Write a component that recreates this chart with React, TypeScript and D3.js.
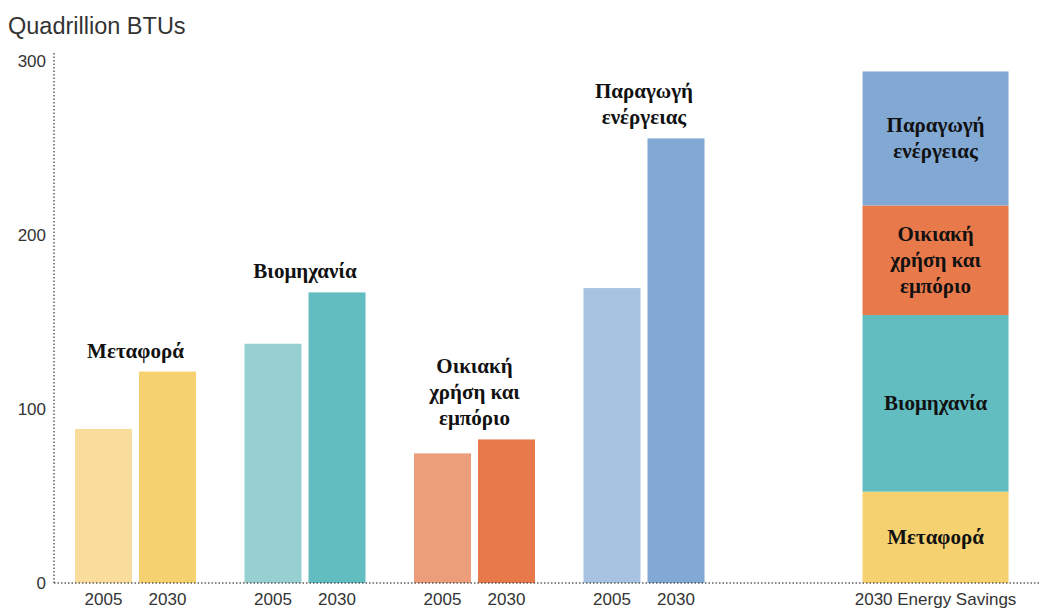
import React, { useEffect, useRef } from "react";
import * as d3 from "d3";

const sectors = ["Μεταφορά", "Βιομηχανία", "Οικιακή χρήση και εμπόριο", "Παραγωγή ενέργειας"];
const sectorLines = [["Μεταφορά"], ["Βιομηχανία"], ["Οικιακή", "χρήση και", "εμπόριο"], ["Παραγωγή", "ενέργειας"]];
const years = ["2005", "2030"];
const values2005 = [88.5, 137.5, 74.5, 169.5];
const values2030 = [121.5, 167, 82.5, 255.5];
const savings = [52.5, 101.5, 63, 77];
const savingsLabel = "2030 Energy Savings";
const yTicks = [0, 100, 200, 300];
const yTitle = "Quadrillion BTUs";

const colors2005 = ["#f9dd9c", "#96d0d1", "#eb9e79", "#a8c2e1"];
const colors2030 = ["#f5d170", "#62bdc1", "#e8794b", "#82a8d4"];

export default function App() {
  const ref = useRef<SVGSVGElement | null>(null);

  useEffect(() => {
    const svg = d3.select(ref.current);
    svg.selectAll("*").remove();
    const W = 1041, H = 610;
    const y = d3.scaleLinear().domain([0, 300]).range([583, 61]);
    const x = d3.scaleLinear().domain([0, 3]).range([135.5, 644]);
    const savingsPos = 4.72;
    const barW = 57, gap = 7, stackW = 146;
    const sans = "'Liberation Sans', Arial, sans-serif";
    const serif = "'Liberation Serif', 'Times New Roman', serif";
    const labelSize = 21;
    const xLabelY = 605;

    svg.append("rect").attr("width", W).attr("height", H).attr("fill", "#fff");

    // title
    svg.append("text").attr("x", 8).attr("y", 34).attr("font-family", sans)
      .attr("font-size", 23.5).attr("fill", "#333").text(yTitle);

    // y tick labels
    svg.selectAll(".yt").data(yTicks).enter().append("text")
      .attr("x", 46).attr("y", (d) => y(d) + 6).attr("text-anchor", "end")
      .attr("font-family", sans).attr("font-size", 17).attr("fill", "#333").text((d) => d);

    // bars
    const g = svg.append("g");
    sectors.forEach((s, i) => {
      const cx = x(i);
      const vals = [values2005[i], values2030[i]];
      const cols = [colors2005[i], colors2030[i]];
      vals.forEach((v, j) => {
        const bx = j === 0 ? cx - gap / 2 - barW : cx + gap / 2;
        g.append("rect").attr("x", bx).attr("y", y(v)).attr("width", barW)
          .attr("height", y(0) - y(v)).attr("fill", cols[j]);
        g.append("text").attr("x", bx + barW / 2).attr("y", xLabelY).attr("text-anchor", "middle")
          .attr("font-family", sans).attr("font-size", 17).attr("fill", "#333").text(years[j]);
      });
      const top = y(Math.max(...vals));
      const lines = sectorLines[i];
      lines.forEach((ln, k) => {
        g.append("text").attr("x", cx).attr("y", top - 14 - (lines.length - 1 - k) * 26)
          .attr("text-anchor", "middle").attr("font-family", serif).attr("font-weight", "bold")
          .attr("font-size", labelSize).attr("fill", "#111").text(ln);
      });
    });

    // stacked savings bar
    const sx = x(savingsPos);
    let acc = 0;
    savings.forEach((v, i) => {
      const y0 = y(acc), y1 = y(acc + v);
      acc += v;
      g.append("rect").attr("x", sx - stackW / 2).attr("y", y1).attr("width", stackW)
        .attr("height", y0 - y1).attr("fill", colors2030[i]);
      const lines = sectorLines[i];
      const mid = (y0 + y1) / 2;
      lines.forEach((ln, k) => {
        g.append("text").attr("x", sx).attr("y", mid + 7 + (k - (lines.length - 1) / 2) * 26)
          .attr("text-anchor", "middle").attr("font-family", serif).attr("font-weight", "bold")
          .attr("font-size", labelSize).attr("fill", "#111").text(ln);
      });
    });
    g.append("text").attr("x", sx).attr("y", xLabelY).attr("text-anchor", "middle")
      .attr("font-family", sans).attr("font-size", 17).attr("fill", "#333").text(savingsLabel);

    // dotted axes
    svg.append("line").attr("x1", 54).attr("x2", 54).attr("y1", 53).attr("y2", y(0))
      .attr("stroke", "#444").attr("stroke-width", 1.5).attr("stroke-dasharray", "1.5,2")
      .attr("opacity", 0.85);
    svg.append("line").attr("x1", 54).attr("x2", W).attr("y1", y(0)).attr("y2", y(0))
      .attr("stroke", "#444").attr("stroke-width", 1.5).attr("stroke-dasharray", "1.5,2")
      .attr("opacity", 0.85);
  }, []);

  return (
    <svg ref={ref} width={1041} height={610}
      style={{ position: "absolute", left: 0, top: 0, display: "block" }} />
  );
}
